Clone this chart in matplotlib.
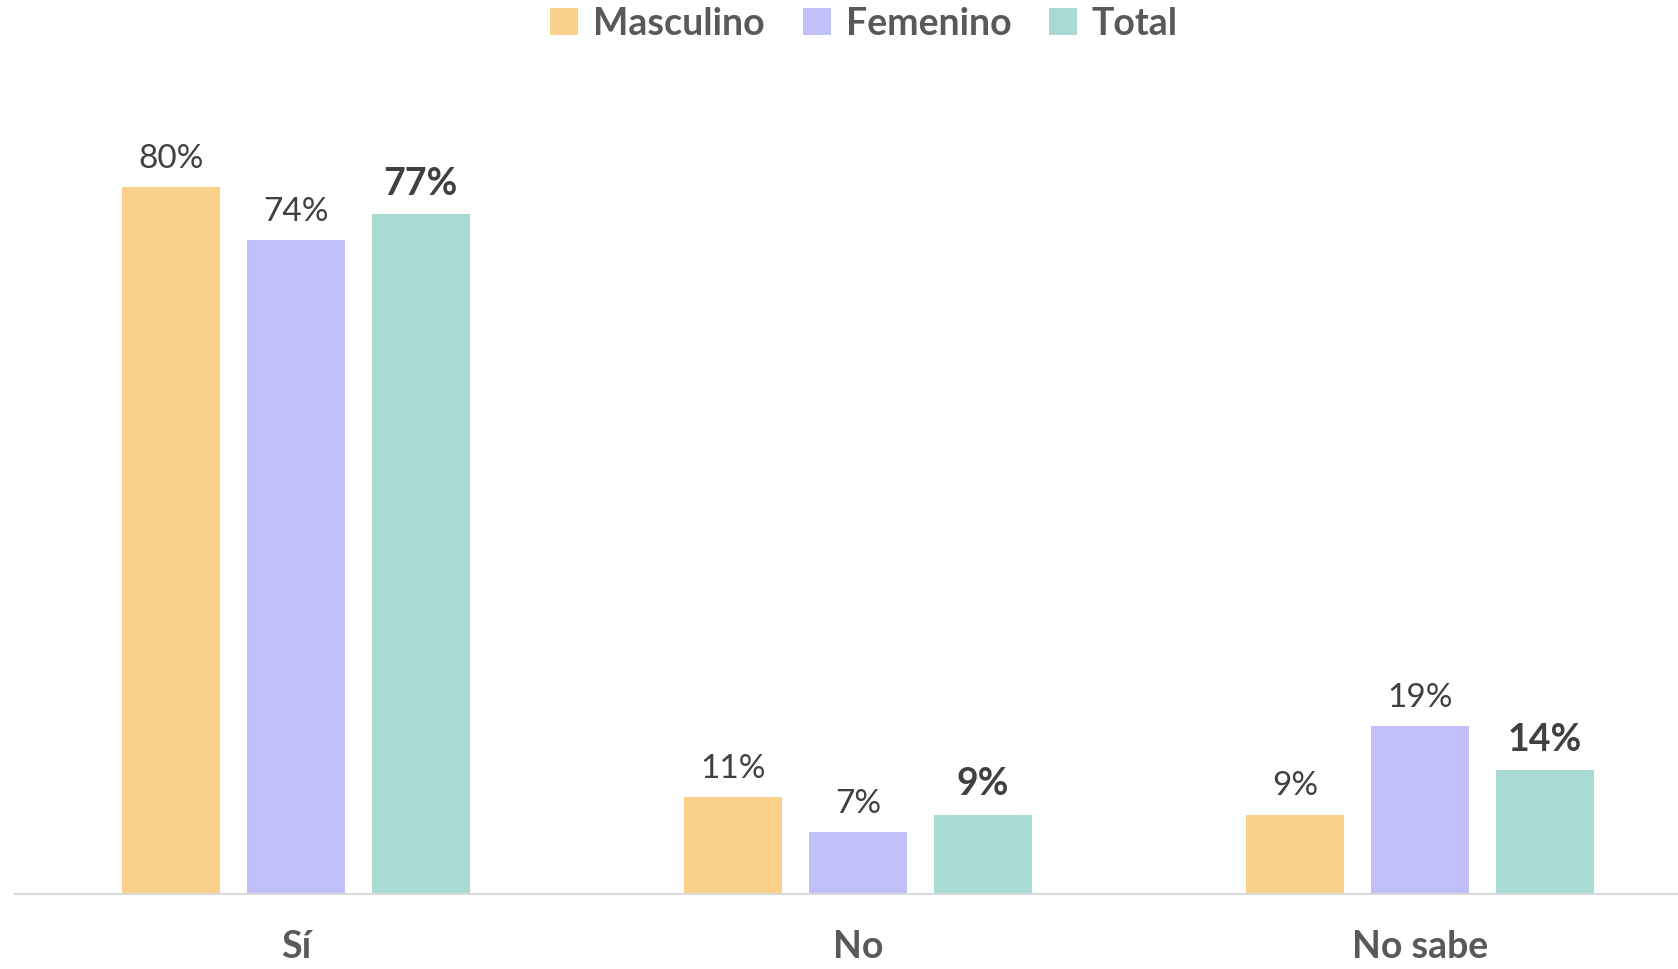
import matplotlib.pyplot as plt
import numpy as np

categories = ['Sí', 'No', 'No sabe']
series = ['Masculino', 'Femenino', 'Total']
masculino = [80, 11, 9]
femenino = [74, 7, 19]
total = [77, 9, 14]

colors = ['#FBD08B', '#C1BFF9', '#A9DBD4']
plt.rcParams['font.family'] = ['Lato', 'DejaVu Sans']

fig = plt.figure(figsize=(16.78, 9.69), dpi=100)
ax = fig.add_axes([15/1678, 75/969, 1663/1678, 795/969])

x = np.arange(len(categories))
w = 0.175
off = 0.222
for i, (name, vals) in enumerate(zip(series, [masculino, femenino, total])):
    pos = x + (i - 1) * off
    ax.bar(pos, vals, width=w, color=colors[i], label=name, zorder=2)
    for p, v in zip(pos, vals):
        if name == 'Total':
            ax.text(p, v + 1.5, f'{v}%', ha='center', va='bottom',
                    fontsize=27, fontweight='bold', color='#404040')
        else:
            ax.text(p, v + 1.5, f'{v}%', ha='center', va='bottom',
                    fontsize=24, color='#404040')

ax.set_xlim(-0.5, -0.5 + 1663/562)
ax.set_ylim(0, 90)
ax.set_yticks([])
ax.set_xticks(x)
ax.set_xticklabels(categories, fontsize=27, fontweight='bold', color='#595959')
ax.tick_params(axis='x', length=0, pad=26)
for s in ['top', 'right', 'left']:
    ax.spines[s].set_visible(False)
ax.spines['bottom'].set_color('#D9D9D9')
ax.spines['bottom'].set_linewidth(1.5)

fig.legend(loc='upper center', bbox_to_anchor=(0.515, 1.028), ncol=3, frameon=False,
           prop={'size': 27, 'weight': 'bold'}, labelcolor='#595959',
           handlelength=0.75, handleheight=0.75, handletextpad=0.4, columnspacing=1.0)

fig.savefig('out.png', dpi=100)
